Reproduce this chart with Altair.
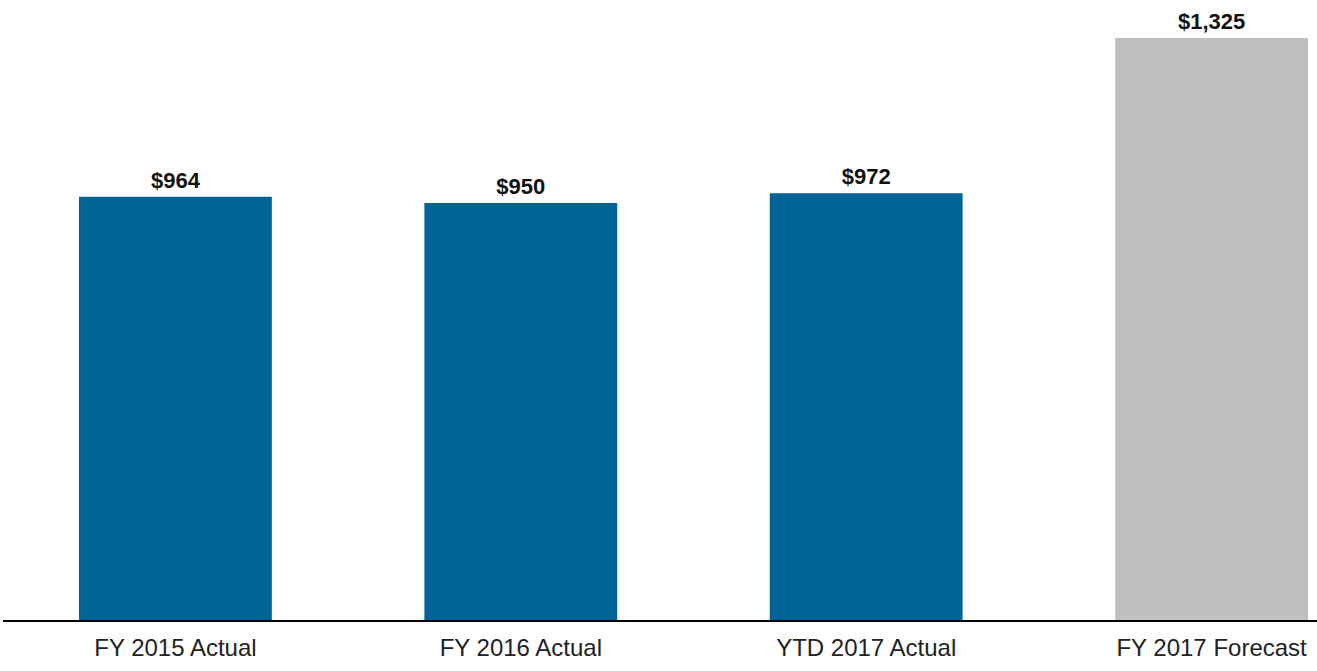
import altair as alt
import pandas as pd

categories = ["FY 2015 Actual", "FY 2016 Actual", "YTD 2017 Actual", "FY 2017 Forecast"]
values = [964, 950, 972, 1325]
labels = ["$964", "$950", "$972", "$1,325"]
colors = ["#006499", "#006499", "#006499", "#BFBFBF"]

df = pd.DataFrame({"cat": categories, "val": values, "lab": labels, "col": colors})

x = alt.X("cat:N", sort=categories, title=None,
          scale=alt.Scale(range=[79, 1308], paddingInner=0.4417, paddingOuter=0),
          axis=alt.Axis(domain=False, ticks=False, labelAngle=0, labelFontSize=24,
                        labelFont="Liberation Sans", labelColor="#222222",
                        labelPadding=15, labelBaseline="top", labelLimit=400))
y = alt.Y("val:Q", title=None, scale=alt.Scale(domain=[0, 1411.4], nice=False, zero=True),
          axis=None)

bars = alt.Chart(df).mark_bar().encode(
    x=x, y=y, color=alt.Color("col:N", scale=None)
)
text = alt.Chart(df).mark_text(
    baseline="alphabetic", dy=-9, fontSize=22, fontWeight="bold",
    font="Liberation Sans", color="#111111"
).encode(x=alt.X("cat:N", sort=categories), y="val:Q", text="lab:N")

rule = alt.Chart(df).mark_rule(color="#000000", strokeWidth=2).encode(
    x=alt.value(3), x2=alt.value(1317), y=alt.value(621)
)

chart = alt.layer(bars, text, rule).properties(
    width=1317, height=621,
    autosize=alt.AutoSizeParams(type="none"),
    padding={"left": 0, "right": 0, "top": 0, "bottom": 50}
).configure_view(stroke=None)

chart.save("out.html", embed_options={"renderer": "svg", "actions": False})
